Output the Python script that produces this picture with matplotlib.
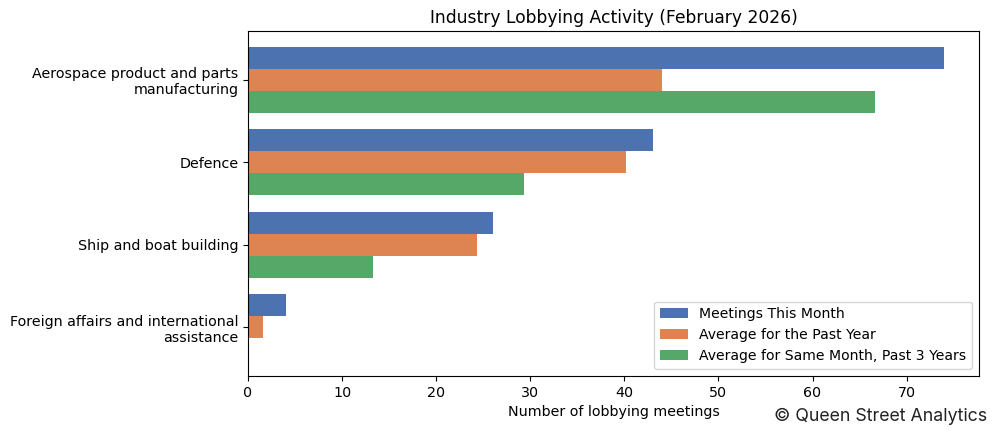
import numpy as np
import matplotlib
matplotlib.use("Agg")
from matplotlib import pyplot as plt

# data
industries = [
    "Aerospace product and parts\nmanufacturing",
    "Defence",
    "Ship and boat building",
    "Foreign affairs and international\nassistance",
]
this_month = [74, 43, 26, 4]
past_year_avg = [44, 40.17, 24.33, 1.58]
same_month_3yr = [66.67, 29.33, 13.33, 0]

series_labels = [
    "Meetings This Month",
    "Average for the Past Year",
    "Average for Same Month, Past 3 Years",
]
colors = ["#4C72B0", "#DD8452", "#55A868"]

plt.rcParams["font.size"] = 10.3

fig, ax = plt.subplots(figsize=(9.96, 4.36), dpi=100)
fig.subplots_adjust(left=0.249, right=0.983, top=0.929, bottom=0.138)

y = np.arange(len(industries))
h = 0.8 / 3
for i, (vals, lab) in enumerate(zip([this_month, past_year_avg, same_month_3yr], series_labels)):
    ax.barh(y + (i - 1) * h, vals, height=h, color=colors[i], label=lab)

ax.set_yticks(y)
ax.set_yticklabels(industries)
ax.invert_yaxis()
ax.set_xlabel("Number of lobbying meetings")
ax.set_title("Industry Lobbying Activity (February 2026)")
ax.legend(loc="lower right", fontsize=10.1)

fig.text(0.991, 0.025, "\u00a9 Queen Street Analytics", ha="right", va="bottom",
         fontsize=12.8, family="Inter", color="#222222")

fig.savefig("out.png", dpi=100)
